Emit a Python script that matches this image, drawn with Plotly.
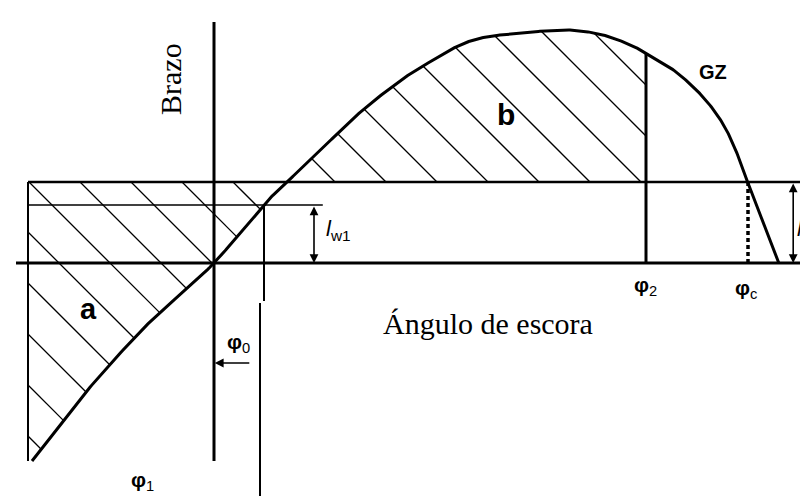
import numpy as np
import plotly.graph_objects as go

# curva GZ (angulo en grados, brazo en m)
phi = [-22.75, -16.1, -9.75, -6.1, 0, 6.1, 9.25, 12.6, 15.5, 18.9, 23.4, 26.75, 30.5, 33.4,
       37.0, 41.4, 44.5, 48.4, 52.1, 54.25, 57.6, 60.9, 63.4, 65.1, 66.75, 70.6]
gz = [-0.792, -0.52, -0.292, -0.18, 0, 0.228, 0.328, 0.428, 0.52, 0.62, 0.732, 0.8, 0.868, 0.9,
      0.916, 0.928, 0.932, 0.914, 0.872, 0.832, 0.768, 0.672, 0.568, 0.46, 0.32, 0]

# angulos y brazos caracteristicos
phi1 = -23.25
phi0 = 6.0
phi2 = 54.0
phic = 66.75
lw1 = 0.232
lw2 = 0.324
gz_min = -0.792
brazo_top = 0.964

W, H = 808, 496
x_min, x_max = -25.75, 75.25
y_min, y_max = -0.964, 1.02


def catmull(xs, ys, n=24):
    p = np.column_stack([xs, ys]).astype(float)
    p = np.vstack([2 * p[0] - p[1], p, 2 * p[-1] - p[-2]])
    t = np.linspace(0, 1, n, endpoint=False)[:, None]
    out = []
    for i in range(1, len(p) - 2):
        p0, p1, p2, p3 = p[i - 1], p[i], p[i + 1], p[i + 2]
        out.append(0.5 * (2 * p1 + (-p0 + p2) * t + (2 * p0 - 5 * p1 + 4 * p2 - p3) * t ** 2
                          + (-p0 + 3 * p1 - 3 * p2 + p3) * t ** 3))
    out.append(p[-2][None, :])
    return np.vstack(out)


def hatch(poly_x, poly_y, step=51):
    # rayado a 45 grados en pantalla, recortado al poligono
    sx = W / (x_max - x_min)
    sy = H / (y_max - y_min)
    P = np.column_stack([poly_x, poly_y]).astype(float)
    c = sx * (P[:, 0] - x_min) - sy * (y_max - P[:, 1])
    hx, hy = [], []
    for k in range(int(np.floor(c.min() / step)), int(np.ceil(c.max() / step)) + 1):
        ck = k * step
        pts = []
        for a in range(len(P) - 1):
            c1, c2 = c[a], c[a + 1]
            if (c1 - ck) * (c2 - ck) < 0:
                t = (ck - c1) / (c2 - c1)
                pts.append(P[a] + t * (P[a + 1] - P[a]))
        pts.sort(key=lambda p: p[0])
        for m in range(0, len(pts) - 1, 2):
            hx += [pts[m][0], pts[m + 1][0], None]
            hy += [pts[m][1], pts[m + 1][1], None]
    return hx, hy


curve = catmull(phi, gz)
cx, cy = curve[:, 0], curve[:, 1]

# corte de la curva con lw2 (tramo ascendente)
i = int(np.argmax(cy >= lw2))
x_cross = np.interp(lw2, [cy[i - 1], cy[i]], [cx[i - 1], cx[i]])
# valor en phi2
j = int(np.argmax(cx >= phi2))
y_phi2 = np.interp(phi2, [cx[j - 1], cx[j]], [cy[j - 1], cy[j]])

area_a_x = [phi1, phi1] + list(cx[:i]) + [x_cross, phi1]
area_a_y = [lw2, gz_min] + list(cy[:i]) + [lw2, lw2]
area_b_x = [x_cross] + list(cx[i:j]) + [phi2, phi2, x_cross]
area_b_y = [lw2] + list(cy[i:j]) + [y_phi2, lw2, lw2]

fig = go.Figure()
for xs, ys in [(area_a_x, area_a_y), (area_b_x, area_b_y)]:
    hx, hy = hatch(xs, ys)
    fig.add_trace(go.Scatter(x=hx, y=hy, mode="lines", line=dict(color="black", width=1.3),
                             hoverinfo="skip"))


def seg(x, y, w, dash="solid"):
    fig.add_trace(go.Scatter(x=x, y=y, mode="lines", line=dict(color="black", width=w, dash=dash),
                             hoverinfo="skip"))


seg([-24.75, x_max], [0, 0], 3)                  # eje horizontal
seg([0, 0], [gz_min, brazo_top], 3)               # eje vertical
seg([phi1, 74.1], [lw2, lw2], 2.5)                # linea lw2
seg([phi1, 13.6], [lw1, lw1], 1.5)                # linea lw1
seg([phi1, phi1], [lw2, gz_min], 2)               # borde izquierdo (phi1)
seg([phi2, phi2], [0, y_phi2], 3)                 # phi2
seg([phic, phic], [0, lw2], 3.5, dash="4px,3px")  # phic
seg([phi0 + 0.25, phi0 + 0.25], [lw1, -0.152], 2)
seg([phi0 - 0.25, phi0 - 0.25], [-0.16, y_min], 2)
seg(list(cx), list(cy), 3)                        # curva GZ

arrows = [
    (12.5, 0, 12.5, lw1, "end+start"),
    (72.4, 0, 72.4, lw2, "end+start"),
    (0.1, -0.40, 4.6, -0.40, "end"),
]
for x, y, ax, ay, side in arrows:
    fig.add_annotation(x=x, y=y, ax=ax, ay=ay, xref="x", yref="y", axref="x", ayref="y",
                       text="", showarrow=True, arrowhead=2, arrowsize=1.1, arrowwidth=1.6,
                       arrowside=side, standoff=0, startstandoff=0, arrowcolor="black")

sans = "Liberation Sans, Arial, sans-serif"
serif = "Liberation Serif, Times New Roman, serif"
labels = [
    (-5.5, 0.736, "Brazo", serif, 30, -90),
    (34.25, -0.24, "Ángulo de escora", serif, 30, 0),
    (-15.75, -0.184, "<b>a</b>", sans, 29, 0),
    (36.5, 0.596, "<b>b</b>", sans, 30, 0),
    (62.4, 0.764, "<b>GZ</b>", sans, 20, 0),
    (3.0, -0.32, "<b>φ</b><sub>0</sub>", sans, 21, 0),
    (-9.0, -0.87, "<b>φ</b><sub>1</sub>", sans, 21, 0),
    (53.9, -0.092, "<b>φ</b><sub>2</sub>", sans, 21, 0),
    (66.5, -0.104, "<b>φ</b><sub>c</sub>", sans, 21, 0),
    (15.6, 0.132, "<i>l</i><sub>w1</sub>", sans, 22, 0),
    (74.4, 0.132, "<i>l</i><sub>w2</sub>", sans, 22, 0),
]
for x, y, t, fam, sz, ang in labels:
    fig.add_annotation(x=x, y=y, text=t, showarrow=False, textangle=ang,
                       font=dict(family=fam, size=sz, color="black"))

fig.update_layout(
    width=W, height=H,
    margin=dict(l=0, r=0, t=0, b=0),
    paper_bgcolor="white", plot_bgcolor="white",
    showlegend=False,
    xaxis=dict(range=[x_min, x_max], visible=False, fixedrange=True),
    yaxis=dict(range=[y_min, y_max], visible=False, fixedrange=True),
)

fig.write_html("out.html")
